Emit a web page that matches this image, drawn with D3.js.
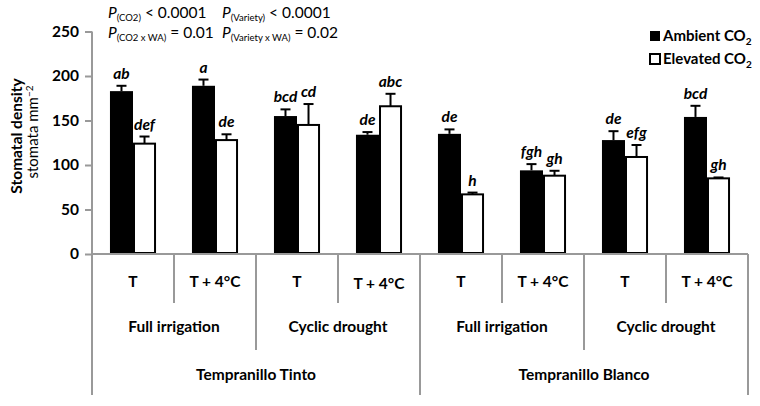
<!DOCTYPE html>
<html>
<head>
<meta charset="utf-8">
<script src="https://cdn.jsdelivr.net/npm/d3@7"></script>
<style>
body { margin: 0; background: #fff; }
text { font-family: Lato, "Open Sans", sans-serif; }
</style>
</head>
<body>
<script>
// data
var groups = ["g1", "g2", "g3", "g4", "g5", "g6", "g7", "g8"];
var tempLabels = ["T", "T + 4°C", "T", "T + 4°C", "T", "T + 4°C", "T", "T + 4°C"];
var waterLabels = ["Full irrigation", "Cyclic drought", "Full irrigation", "Cyclic drought"];
var varietyLabels = ["Tempranillo Tinto", "Tempranillo Blanco"];
var series = ["Ambient", "Elevated"];
var ambient = [183, 189, 155, 134, 135, 94, 128, 154];
var ambientErr = [6, 7, 7.5, 3, 5, 7, 10, 12.5];
var elevated = [124, 128, 145, 166, 67, 88, 109, 85];
var elevatedErr = [8, 6.5, 23.5, 14, 2, 5.5, 13.5, 1];
var ambientLetters = ["ab", "a", "bcd", "de", "de", "fgh", "de", "bcd"];
var elevatedLetters = ["def", "de", "cd", "abc", "h", "gh", "efg", "gh"];
var yTicks = [0, 50, 100, 150, 200, 250];

var w = 760, h = 406;
var left = 92, right = 748, yTop = 31.5, base = 254;
var grey = "#999";

var svg = d3.select("body").append("svg")
    .attr("width", w)
    .attr("height", h);

var x = d3.scaleBand().domain(groups).range([left, right]);
var xSub = d3.scaleBand().domain(series).range([0, x.bandwidth()]).paddingOuter(0.78);
var y = d3.scaleLinear().domain([0, 250]).range([base, yTop]);

var rows = [];
groups.forEach(function (g, i) {
    rows.push({g: g, s: "Ambient", v: ambient[i], e: ambientErr[i], l: ambientLetters[i]});
    rows.push({g: g, s: "Elevated", v: elevated[i], e: elevatedErr[i], l: elevatedLetters[i]});
});

// y axis
var yAxis = d3.axisLeft(y).tickValues(yTicks).tickSize(7).tickPadding(6);
var ya = svg.append("g")
    .attr("transform", "translate(" + left + ",0)")
    .call(yAxis);
ya.select(".domain").attr("stroke", grey).attr("stroke-width", 2).attr("d", "M0," + yTop + "V" + base);
ya.selectAll(".tick line").attr("stroke", grey).attr("stroke-width", 2);
ya.selectAll(".tick text")
    .attr("font-size", "15.5px")
    .attr("font-weight", "bold")
    .attr("fill", "#000")
    .style("font-family", "Lato, sans-serif");

// axis title
svg.append("text")
    .attr("transform", "translate(22,136) rotate(-90)")
    .attr("text-anchor", "middle")
    .attr("font-size", "15.5px")
    .attr("font-weight", "bold")
    .text("Stomatal density");
var t2 = svg.append("text")
    .attr("transform", "translate(38,132) rotate(-90)")
    .attr("text-anchor", "middle")
    .attr("font-size", "15px");
t2.append("tspan").text("stomata mm");
t2.append("tspan").attr("dy", -5).attr("font-size", "10px").text("−2");

// bars
svg.selectAll("rect.bar")
    .data(rows)
    .join("rect")
    .attr("class", "bar")
    .attr("x", d => x(d.g) + xSub(d.s) + (d.s == "Elevated" ? 1 : 0))
    .attr("y", d => y(d.v))
    .attr("width", d => xSub.bandwidth() - (d.s == "Elevated" ? 2 : 0))
    .attr("height", d => base - y(d.v) - (d.s == "Elevated" ? 1 : 0))
    .attr("fill", d => d.s == "Ambient" ? "#000" : "#fff")
    .attr("stroke", "#000")
    .attr("stroke-width", d => d.s == "Ambient" ? 0 : 2);

// error bars
var eb = svg.selectAll("g.err")
    .data(rows)
    .join("g")
    .attr("class", "err")
    .attr("transform", d => "translate(" + (x(d.g) + xSub(d.s) + xSub.bandwidth() / 2) + ",0)");
eb.append("line")
    .attr("x1", 0).attr("x2", 0)
    .attr("y1", d => y(d.v))
    .attr("y2", d => y(d.v + d.e))
    .attr("stroke", "#000").attr("stroke-width", 2);
eb.append("line")
    .attr("x1", -5).attr("x2", 5)
    .attr("y1", d => y(d.v + d.e))
    .attr("y2", d => y(d.v + d.e))
    .attr("stroke", "#000").attr("stroke-width", 2);

// letters
svg.selectAll("text.letter")
    .data(rows)
    .join("text")
    .attr("class", "letter")
    .attr("x", d => x(d.g) + xSub(d.s) + xSub.bandwidth() / 2)
    .attr("y", d => y(d.v + d.e) - 7)
    .attr("text-anchor", "middle")
    .attr("font-size", "15.5px")
    .attr("font-weight", "bold")
    .attr("font-style", "italic")
    .text(d => d.l);

// x axis line
svg.append("line")
    .attr("x1", left).attr("x2", right)
    .attr("y1", base).attr("y2", base)
    .attr("stroke", grey).attr("stroke-width", 2);

// category dividers
var edges = groups.map(g => x(g)).concat([right]);
svg.selectAll("line.div")
    .data(edges)
    .join("line")
    .attr("class", "div")
    .attr("x1", d => d).attr("x2", d => d)
    .attr("y1", base)
    .attr("y2", (d, i) => i % 4 == 0 ? 395 : (i % 2 == 0 ? 350 : 303))
    .attr("stroke", grey).attr("stroke-width", 2);

svg.selectAll("text.temp")
    .data(tempLabels)
    .join("text")
    .attr("class", "temp")
    .attr("x", (d, i) => x(groups[i]) + x.bandwidth() / 2)
    .attr("y", (d, i) => i == 3 ? 289 : 287)
    .attr("text-anchor", "middle")
    .attr("font-size", "15.5px")
    .attr("font-weight", "bold")
    .text(d => d);

svg.selectAll("text.water")
    .data(waterLabels)
    .join("text")
    .attr("class", "water")
    .attr("x", (d, i) => x(groups[i * 2]) + x.bandwidth())
    .attr("y", 332)
    .attr("text-anchor", "middle")
    .attr("font-size", "15.5px")
    .attr("font-weight", "bold")
    .text(d => d);

svg.selectAll("text.variety")
    .data(varietyLabels)
    .join("text")
    .attr("class", "variety")
    .attr("x", (d, i) => x(groups[i * 4]) + x.bandwidth() * 2)
    .attr("y", 380)
    .attr("text-anchor", "middle")
    .attr("font-size", "15.5px")
    .attr("font-weight", "bold")
    .text(d => d);

// legend
var leg = svg.selectAll("g.leg")
    .data(series)
    .join("g")
    .attr("class", "leg")
    .attr("transform", (d, i) => "translate(650," + (31 + i * 23) + ")");
leg.append("rect")
    .attr("width", 10).attr("height", 10)
    .attr("fill", d => d == "Ambient" ? "#000" : "#fff")
    .attr("stroke", "#000")
    .attr("stroke-width", d => d == "Ambient" ? 0 : 2);
var lt = leg.append("text")
    .attr("x", 13).attr("y", 10)
    .attr("font-size", "15px")
    .attr("font-weight", "bold");
lt.append("tspan").text(d => d + " CO");
lt.append("tspan").attr("dy", 4).attr("font-size", "10px").text("2");

// P values
var pvals = [
    {x: 108, y: 18, sub: "(CO2)", rest: " < 0.0001"},
    {x: 222, y: 18, sub: "(Variety)", rest: " < 0.0001"},
    {x: 108, y: 38, sub: "(CO2 x WA)", rest: " = 0.01"},
    {x: 222, y: 38, sub: "(Variety x WA)", rest: " = 0.02"}
];
var pt = svg.selectAll("text.p")
    .data(pvals)
    .join("text")
    .attr("class", "p")
    .attr("x", d => d.x).attr("y", d => d.y)
    .attr("font-size", "15.5px");
pt.append("tspan").attr("font-style", "italic").text("P");
pt.append("tspan").attr("dy", 3).attr("font-size", "9.5px").text(d => d.sub);
pt.append("tspan").attr("dy", -3).text(d => d.rest);
</script>
</body>
</html>
